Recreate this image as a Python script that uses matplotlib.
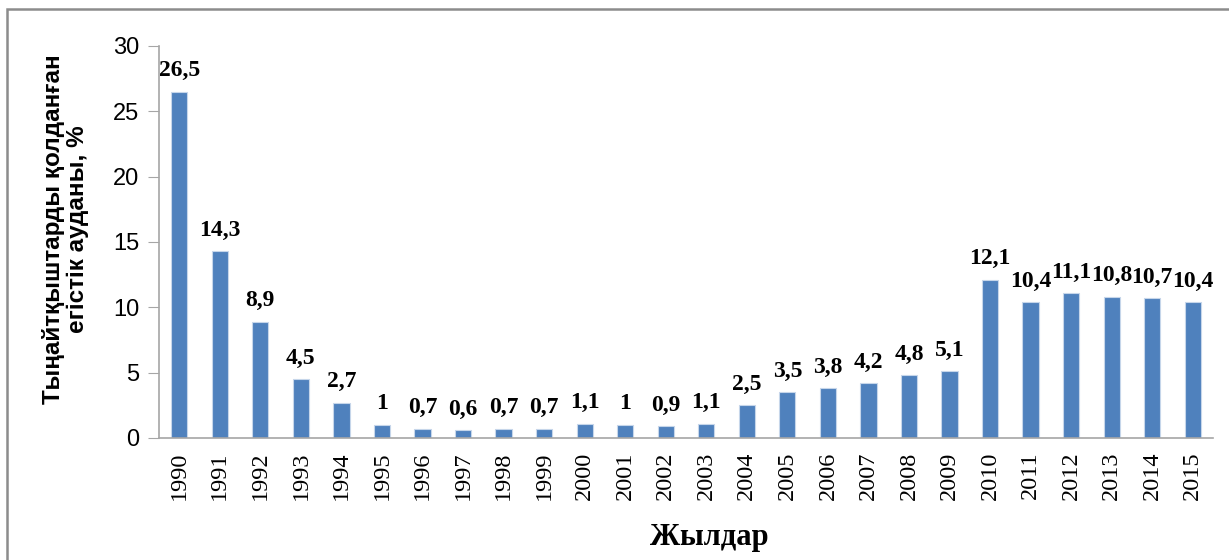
import matplotlib
matplotlib.use("Agg")
import matplotlib.pyplot as plt
from matplotlib.patches import Rectangle

years = [str(y) for y in range(1990, 2016)]
values = [26.5, 14.3, 8.9, 4.5, 2.7, 1, 0.7, 0.6, 0.7, 0.7, 1.1, 1, 0.9, 1.1,
          2.5, 3.5, 3.8, 4.2, 4.8, 5.1, 12.1, 10.4, 11.1, 10.8, 10.7, 10.4]
y_ticks = [0, 5, 10, 15, 20, 25, 30]

BAR_COLOR = '#4F81BD'
AXIS_COLOR = '#A6A6A6'

fig = plt.figure(figsize=(12.29, 5.6), dpi=100)
ax = fig.add_axes([0.1294, 0.2179, 0.8576, 0.700])

x = range(len(years))
ax.bar(x, values, width=0.4, color=BAR_COLOR, edgecolor='#C6D6EA', linewidth=0.8)

ax.set_xlim(-0.5, len(years) - 0.5)
ax.set_ylim(0, 30)
ax.set_yticks(y_ticks)
ax.set_yticklabels([str(t) for t in y_ticks], family='Liberation Sans', fontsize=17)
ax.set_xticks(list(x))
ax.set_xticklabels(years, rotation=90, family='Liberation Serif', fontsize=17.5)

ax.tick_params(axis='y', direction='out', length=8, color=AXIS_COLOR, pad=6)
ax.tick_params(axis='x', length=0, pad=10)

for side in ('top', 'right'):
    ax.spines[side].set_visible(False)
for side in ('left', 'bottom'):
    ax.spines[side].set_color(AXIS_COLOR)
    ax.spines[side].set_linewidth(1.2)

# value labels
for i, v in enumerate(values):
    label = ('%g' % v).replace('.', ',')
    ax.text(i, v + 0.8, label, ha='center', va='bottom',
            family='Liberation Serif', fontweight='bold', fontsize=17)

fig.text(709 / 1229, 1 - 545 / 560, 'Жылдар', ha='center', va='baseline',
         family='Liberation Serif', fontweight='bold', fontsize=22)
fig.text(0.053, 0.59, 'Тыңайтқыштарды қолданған\nегістік ауданы, %',
         rotation=90, ha='center', va='center', family='Liberation Sans',
         fontweight='bold', fontsize=17.5, linespacing=1.05)

# outer chart frame (cut off at right and bottom edges)
fig.patches.append(Rectangle((7 / 1229, -0.1), 1.5, 1 - 9 / 560 + 0.1,
                             transform=fig.transFigure, fill=False,
                             edgecolor='#8C8C8C', linewidth=1.8))

fig.savefig('out.png', dpi=100)
